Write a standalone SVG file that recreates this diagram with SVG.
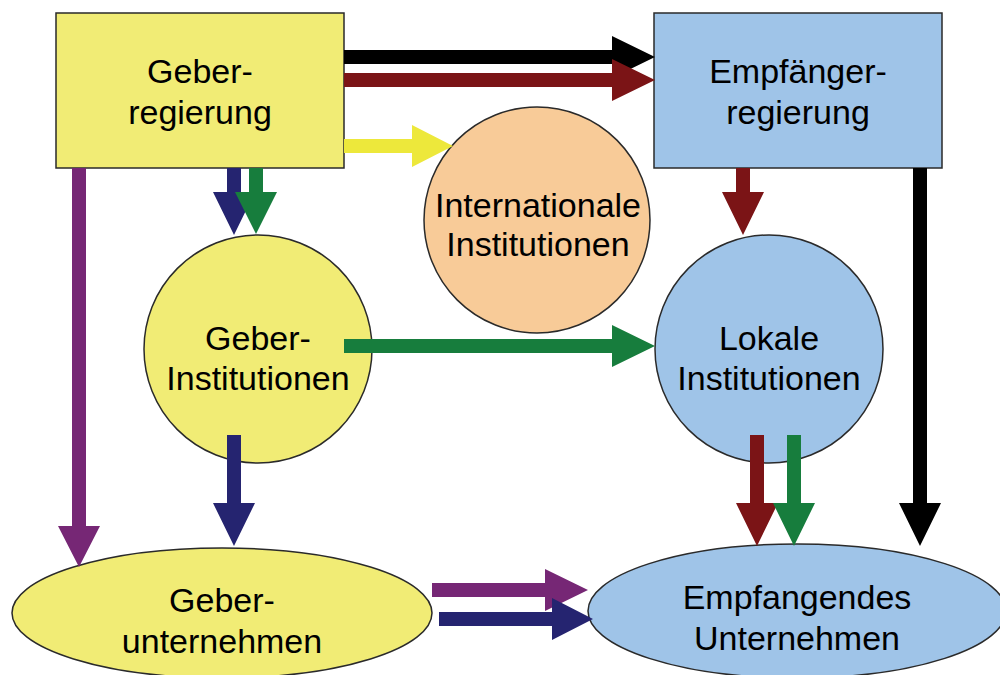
<svg xmlns="http://www.w3.org/2000/svg" width="1000" height="675" viewBox="0 0 1000 675">
<style>
.n{stroke:#2a2a2a;stroke-width:1.5}
.y{fill:#F1EC75}
.b{fill:#9FC4E8}
.o{fill:#F8CB98}
text{font-family:"Liberation Sans",Arial,sans-serif;font-size:34px;fill:#000;text-anchor:middle}
</style>
<rect width="1000" height="675" fill="#fff"/>
<g id="geberregierung">
<rect class="n y" x="56" y="13" width="288" height="155"/>
<text x="200" y="83">Geber-</text>
<text x="200" y="124">regierung</text>
</g>
<g id="empfaengerregierung">
<rect class="n b" x="654" y="13" width="288" height="155"/>
<text x="798" y="83">Empfänger-</text>
<text x="798" y="124">regierung</text>
</g>
<g id="internationale">
<circle class="n o" cx="537" cy="220" r="113"/>
<text x="538" y="217">Internationale</text>
<text x="538" y="256">Institutionen</text>
</g>
<g id="geberinstitutionen">
<circle class="n y" cx="258" cy="349" r="114"/>
<text x="258" y="350">Geber-</text>
<text x="258" y="390">Institutionen</text>
</g>
<g id="lokale">
<circle class="n b" cx="769" cy="349" r="114"/>
<text x="769" y="350">Lokale</text>
<text x="769" y="390">Institutionen</text>
</g>
<g id="geberunternehmen">
<ellipse class="n y" cx="222" cy="613" rx="210" ry="65"/>
<text x="222" y="612">Geber-</text>
<text x="222" y="653">unternehmen</text>
</g>
<g id="empfangendes">
<ellipse class="n b" cx="797" cy="611" rx="209" ry="67"/>
<text x="797" y="609">Empfangendes</text>
<text x="797" y="650">Unternehmen</text>
</g>
<g id="connectors">
<polygon fill="#000000" points="344,50 612,50 612,36 655,57 612,78 612,64 344,64"/>
<polygon fill="#7B1416" points="344,73 612,73 612,59 655,80 612,101 612,87 344,87"/>
<polygon fill="#EDE83B" points="344,139 412,139 412,125 453,146 412,167 412,153 344,153"/>
<polygon fill="#177D3D" points="344,339 612,339 612,325 655,346 612,367 612,353 344,353"/>
<polygon fill="#762775" points="432,583 545,583 545,569 588,590 545,611 545,597 432,597"/>
<polygon fill="#252470" points="439,612 552,612 552,598 593,619 552,640 552,626 439,626"/>
<polygon fill="#252470" points="227,168 241,168 241,192 255,192 234,235 213,192 227,192"/>
<polygon fill="#177D3D" points="249,168 263,168 263,192 277,192 256,234 235,192 249,192"/>
<polygon fill="#762775" points="72,168 86,168 86,526 100,526 79,567 58,526 72,526"/>
<polygon fill="#252470" points="227,435 241,435 241,503 255,503 234,546 213,503 227,503"/>
<polygon fill="#7B1416" points="736,168 750,168 750,192 764,192 743,235 722,192 736,192"/>
<polygon fill="#000000" points="913,168 927,168 927,503 941,503 920,546 899,503 913,503"/>
<polygon fill="#7B1416" points="750,435 764,435 764,503 778,503 757,546 736,503 750,503"/>
<polygon fill="#177D3D" points="787,435 801,435 801,503 815,503 794,546 773,503 787,503"/>
</g>
</svg>
